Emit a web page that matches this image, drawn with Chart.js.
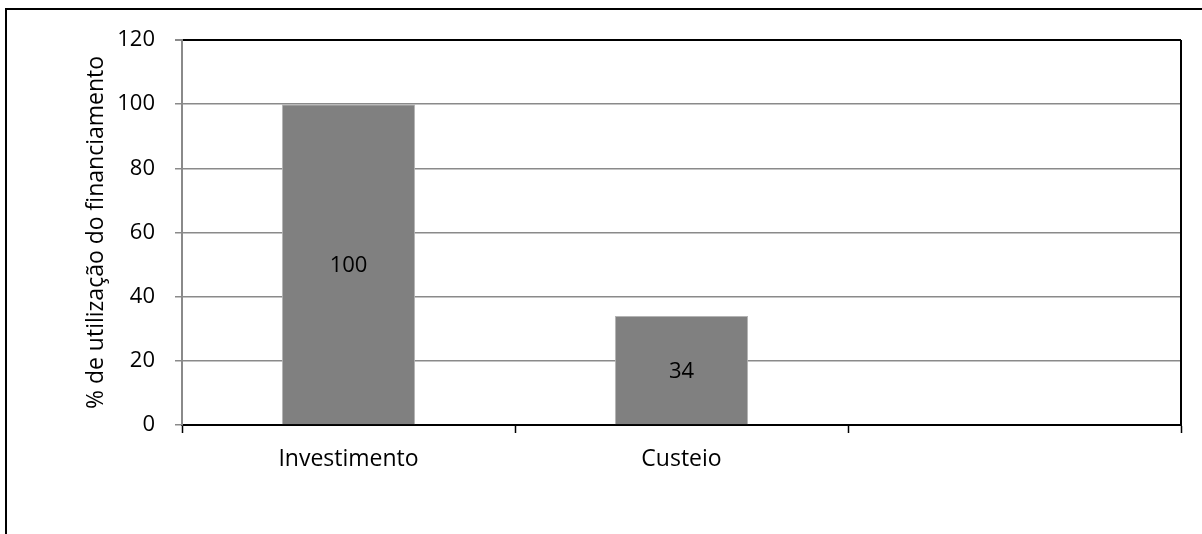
<!DOCTYPE html>
<html>
<head>
<meta charset="utf-8">
<script src="https://cdn.jsdelivr.net/npm/chart.js@4.4.1/dist/chart.umd.min.js"></script>
<style>
    body { margin: 0; background: #fff; }
    #wrap { width: 1202px; height: 534px; position: relative; }
</style>
</head>
<body>
<div id="wrap"><canvas id="grafico"></canvas></div>
<script>
// categorias e valores
const categorias = ['Investimento', 'Custeio', '']
const valores = [100, 34, null]
const tituloY = '% de utilização do financiamento'
const ticksY = [0, 20, 40, 60, 80, 100, 120]

const fonteTexto = { family: 'Open Sans', size: 23 }
const fonteNum = { family: 'Open Sans', size: 22 }

// moldura externa e borda direita da área do gráfico
const molduras = {
    id: 'molduras',
    beforeDraw(chart) {
        const c = chart.ctx
        c.save()
        c.fillStyle = '#fff'
        c.fillRect(0, 0, chart.width, chart.height)
        c.strokeStyle = '#000'
        c.lineWidth = 2
        c.beginPath()
        c.moveTo(6, chart.height + 5)
        c.lineTo(6, 9)
        c.lineTo(chart.width + 5, 9)
        c.stroke()
        c.restore()
    },
    afterDraw(chart) {
        const a = chart.chartArea
        const c = chart.ctx
        c.save()
        c.strokeStyle = '#000'
        c.lineWidth = 2
        c.beginPath()
        c.moveTo(a.right, a.top)
        c.lineTo(a.right, a.bottom)
        c.stroke()
        c.restore()
    }
}

// rótulos de valor no meio das barras
const rotulos = {
    id: 'rotulos',
    afterDatasetsDraw(chart) {
        const c = chart.ctx
        const meta = chart.getDatasetMeta(0)
        c.save()
        c.fillStyle = '#000'
        c.font = fonteNum.size + 'px ' + fonteNum.family
        c.textAlign = 'center'
        c.textBaseline = 'middle'
        meta.data.forEach((bar, i) => {
            const v = valores[i]
            if (v === null) return
            const p = bar.getProps(['x', 'y', 'base'], true)
            c.fillText(String(v), p.x, (p.y + p.base) / 2 + 2)
        })
        c.restore()
    }
}

new Chart(document.getElementById('grafico'), {
    type: 'bar',
    data: {
        labels: categorias,
        datasets: [{
            data: valores,
            backgroundColor: '#808080',
            borderColor: '#b4b4b4',
            borderWidth: 1,
            categoryPercentage: 1,
            barPercentage: 0.4
        }]
    },
    options: {
        responsive: true,
        maintainAspectRatio: false,
        animation: false,
        layout: { padding: { top: 40, right: 21, left: 0, bottom: 0 } },
        plugins: { legend: { display: false }, tooltip: { enabled: false } },
        scales: {
            x: {
                offset: true,
                grid: { offset: true, drawOnChartArea: false, tickLength: 8, tickColor: '#000', tickWidth: 1.5 },
                border: { color: '#000', width: 2 },
                ticks: { color: '#000', font: fonteTexto, padding: 13, maxRotation: 0 },
                afterFit(scale) { scale.height = 109 }
            },
            y: {
                min: 0,
                max: 120,
                afterBuildTicks(scale) { scale.ticks = ticksY.map(v => ({ value: v })) },
                grid: {
                    color: ctx => ctx.tick && ctx.tick.value === 120 ? '#000' : '#8a8a8a',
                    lineWidth: ctx => ctx.tick && ctx.tick.value === 120 ? 2 : 1.5,
                    tickColor: '#8a8a8a',
                    tickLength: 7
                },
                border: { color: '#8a8a8a', width: 2 },
                ticks: { color: '#000', font: fonteNum, padding: 20 },
                title: {
                    display: true,
                    text: tituloY,
                    color: '#000',
                    font: fonteTexto,
                    padding: { top: 83, bottom: 0 }
                },
                afterFit(scale) { scale.width = 182 }
            }
        }
    },
    plugins: [molduras, rotulos]
})
</script>
</body>
</html>
